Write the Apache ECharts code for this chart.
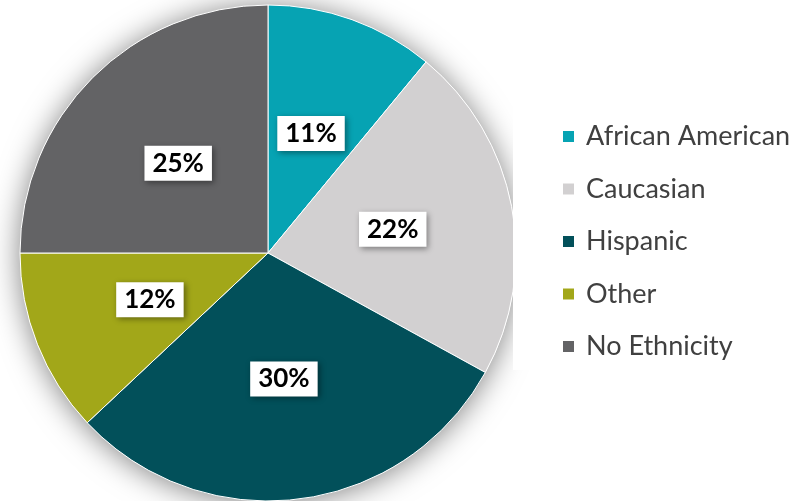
<!DOCTYPE html>
<html>
<head>
<meta charset="utf-8">
<script src="https://cdn.jsdelivr.net/npm/echarts@6/dist/echarts.min.js"></script>
<style>
  html, body { margin: 0; padding: 0; background: #ffffff; }
  #chart { width: 811px; height: 501px; }
</style>
</head>
<body>
<div id="chart"></div>
<script>
// Share of each ethnicity group (percent)
const categories = ['African American', 'Caucasian', 'Hispanic', 'Other', 'No Ethnicity'];
const shares = [11, 22, 30, 12, 25];
const colors = ['#06a3b3', '#d2d0d1', '#02505a', '#a2a719', '#636365'];

const chart = echarts.init(document.getElementById('chart'));

const pieData = categories.map((name, i) => ({
  name: name,
  value: shares[i],
  itemStyle: { color: colors[i] }
}));

chart.setOption({
  animation: false,
  color: colors,
  legend: {
    orient: 'vertical',
    z: 10,
    left: 556,
    top: 118,
    itemWidth: 13,
    itemHeight: 13,
    itemGap: 25.5,
    icon: 'rect',
    data: categories,
    textStyle: {
      fontFamily: 'Lato',
      fontSize: 27,
      lineHeight: 26,
      color: '#404040',
      padding: [0, 0, 0, 6]
    }
  },
  graphic: [{
    // plain panel behind the legend
    type: 'rect',
    z: 5,
    shape: { x: 513, y: 107, width: 298, height: 263 },
    style: { fill: '#ffffff' },
    silent: true
  }],
  series: [
    {
      // soft drop shadow under the whole pie
      type: 'pie',
      silent: true,
      z: 1,
      center: [268, 253],
      radius: 248,
      label: { show: false },
      labelLine: { show: false },
      itemStyle: {
        color: '#ffffff',
        shadowBlur: 30,
        shadowColor: 'rgba(0,0,0,0.5)',
        shadowOffsetX: 0,
        shadowOffsetY: 2
      },
      data: [{ name: '_shadow', value: 1 }]
    },
    {
      type: 'pie',
      z: 2,
      center: [268, 253],
      radius: 248,
      startAngle: 90,
      clockwise: true,
      itemStyle: { borderColor: '#ffffff', borderWidth: 1 },
      emphasis: { disabled: true },
      label: {
        show: true,
        position: 'inside',
        formatter: '{c}%',
        fontFamily: 'Lato',
        fontWeight: 'bold',
        fontSize: 26,
        color: '#000000',
        backgroundColor: '#ffffff',
        padding: [5, 8, 4, 8],
        shadowBlur: 6,
        shadowColor: 'rgba(0,0,0,0.4)',
        shadowOffsetX: 2,
        shadowOffsetY: 2
      },
      data: pieData
    }
  ]
});
</script>
</body>
</html>
